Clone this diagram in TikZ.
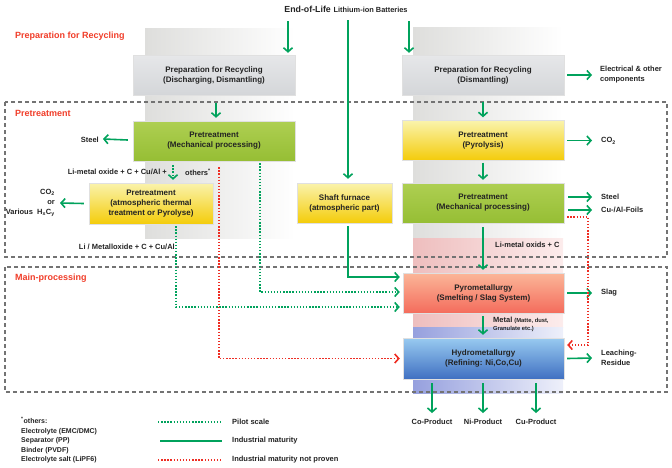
\documentclass[tikz,border=0pt]{standalone}
\usepackage{fontspec}
\setmainfont{Liberation Sans}
\usetikzlibrary{arrows.meta,calc}
\definecolor{ggreen}{RGB}{0,162,92}
\definecolor{rred}{RGB}{238,45,35}
\definecolor{seclbl}{RGB}{240,60,40}
\definecolor{txt}{RGB}{35,35,35}
\definecolor{graytop}{RGB}{230,231,233}
\definecolor{graybot}{RGB}{212,214,217}
\definecolor{greentop}{RGB}{174,207,82}
\definecolor{greenbot}{RGB}{150,190,52}
\definecolor{yellowtop}{RGB}{250,243,172}
\definecolor{yellowbot}{RGB}{244,204,10}
\definecolor{pyrotop}{RGB}{251,182,152}
\definecolor{pyrobot}{RGB}{244,108,92}
\definecolor{hydrotop}{RGB}{152,202,240}
\definecolor{hydrobot}{RGB}{64,112,194}
\definecolor{colgray}{RGB}{222,222,220}
\definecolor{colpinkL}{RGB}{238,190,190}
\definecolor{colpinkR}{RGB}{252,236,236}
\definecolor{colblueL}{RGB}{150,160,222}
\definecolor{colblueR}{RGB}{238,240,250}
\tikzset{
  box/.style={draw=black!12, line width=0.4pt, minimum width=162pt, minimum height=40pt,
    inner sep=0pt, align=center, font=\fontsize{8}{10}\selectfont\bfseries, text=txt},
  graybox/.style={box, top color=graytop, bottom color=graybot},
  greenbox/.style={box, top color=greentop, bottom color=greenbot},
  yellowbox/.style={box, top color=yellowtop, bottom color=yellowbot},
  pyrobox/.style={box, top color=pyrotop, bottom color=pyrobot},
  hydrobox/.style={box, top color=hydrotop, bottom color=hydrobot},
  tip/.style={-{Straight Barb[length=4pt,width=9pt]}},
  garrow/.style={draw=ggreen, line width=1.6pt, tip},
  gdot/.style={draw=ggreen, line width=1.6pt, dash pattern=on 1.4pt off 1.7pt},
  rdot/.style={draw=rred, line width=1.6pt, dash pattern=on 1.4pt off 1.7pt},
  region/.style={draw=black!55, line width=1.1pt, dash pattern=on 4pt off 3pt},
  sec/.style={text=seclbl, font=\fontsize{9}{10}\selectfont\bfseries, anchor=west, inner sep=0pt},
  lab/.style={font=\fontsize{7.5}{10}\selectfont\bfseries, text=txt, inner sep=1pt},
}
\begin{document}
\begin{tikzpicture}[x=1pt,y=-1pt]
\useasboundingbox (0,0) rectangle (672,467);
% background columns
\fill[left color=colgray, right color=white] (145,28) rectangle (295,238);
\fill[left color=colgray, right color=white] (413,27) rectangle (563,238);
\fill[left color=colpinkL, right color=colpinkR] (413,238) rectangle (563,327);
\fill[left color=colblueL, right color=colblueR] (413,327) rectangle (563,393);
% regions
\draw[region] (5,102) rectangle (667,257);
\draw[region] (5,267) rectangle (667,392);
\node[sec] (s1) at (15,36) {Preparation for Recycling};
\node[sec] (s2) at (15,113) {Pretreatment};
\node[sec] (s3) at (15,278) {Main-processing};
% title
\node[inner sep=1pt, text=txt] (title) at (346,9) {{\fontsize{8.8}{10}\selectfont\bfseries End-of-Life} {\fontsize{7.4}{10}\selectfont\bfseries Lithium-ion Batteries}};
% boxes
\node[graybox] (prep1) at (214,75) {Preparation for Recycling\\(Discharging, Dismantling)};
\node[graybox] (prep2) at (483,75) {Preparation for Recycling\\(Dismantling)};
\node[greenbox] (mech1) at (214,141) {Pretreatment\\(Mechanical processing)};
\node[yellowbox] (pyr) at (483,140.5) {Pretreatment\\(Pyrolysis)};
\node[greenbox] (mech2) at (483,203) {Pretreatment\\(Mechanical processing)};
\node[yellowbox, minimum width=124pt, minimum height=41pt] (therm) at (151,203.5) {Pretreatment\\(atmospheric thermal\\treatment or Pyrolyse)};
\node[yellowbox, minimum width=95pt] (shaft) at (344.5,203) {Shaft furnace\\(atmospheric part)};
\node[pyrobox, minimum width=161pt] (pyro) at (483.5,293) {Pyrometallurgy\\(Smelting / Slag System)};
\node[hydrobox, minimum width=161pt, minimum height=41pt] (hydro) at (483.5,358.5) {Hydrometallurgy\\(Refining: Ni,Co,Cu)};
% labels
\node[lab, anchor=east] (steel1) at (100,140) {Steel};
\node[lab, anchor=west, align=left] (elec) at (599,75) {Electrical \& other\\components};
\node[lab, anchor=west] (co2a) at (600,141) {CO\textsubscript{2}};
\node[lab, anchor=west] (steel2) at (600,197) {Steel};
\node[lab, anchor=west] (foils) at (600,210) {Cu-/Al-Foils};
\node[lab, anchor=west] (slag) at (600,293) {Slag};
\node[lab, anchor=west, align=left] (leach) at (600,358) {Leaching-\\Residue};
\node[lab, anchor=east, align=right] (co2b) at (56,203) {CO\textsubscript{2}\\or\\Various\ \ H\textsubscript{x}C\textsubscript{y}};
\node[lab, anchor=east] (limo) at (168,172) {Li-metal oxide + C + Cu/Al +};
\node[lab, anchor=west] (others) at (184,172) {others\textsuperscript{*}};
\node[lab, anchor=east] (lmo2) at (176,247) {Li / Metalloxide + C + Cu/Al};
\node[lab, anchor=west] (limc) at (494,245) {Li-metal oxids + C};
\node[lab, anchor=north west, align=left] (metal) at (492,316) {Metal {\fontsize{5.8}{7}\selectfont (Matte, dust,}\\[-2pt]{\fontsize{5.8}{7}\selectfont Granulate etc.)}};
\node[lab] (cop) at (432,422) {Co-Product};
\node[lab] (nip) at (483,422) {Ni-Product};
\node[lab] (cup) at (536,422) {Cu-Product};
% title arrows
\coordinate (t1) at (288,21);
\coordinate (t2) at (348,20);
\coordinate (t3) at (409,21);
\draw[garrow, shorten >=2pt] (t1) -- (t1 |- prep1.north);
\draw[garrow, shorten >=2pt] (t3) -- (t3 |- prep2.north);
\draw[garrow] (t2) -- ($(shaft.north)+(3.5,-4)$);
% vertical flow arrows
\draw[garrow] ($(prep1.south)+(2,8)$) -- ($(mech1.north)+(2,-3)$);
\draw[garrow] ($(prep2.south)+(0,7)$) -- ($(pyr.north)+(0,-3)$);
\draw[garrow] ($(pyr.south)+(0,2)$) -- ($(mech2.north)+(0,-3)$);
\draw[garrow] ($(mech2.south)+(0,4)$) -- ($(pyro.north)+(-0.5,-3)$);
\draw[garrow] ($(pyro.south)+(-0.5,3)$) -- ($(hydro.north)+(-0.5,-3)$);
\draw[garrow, shorten >=5pt] ($(hydro.south)+(-51.5,4)$) -- (cop.north);
\draw[garrow, shorten >=5pt] ($(hydro.south)+(-0.5,4)$) -- (nip.north);
\draw[garrow, shorten >=5pt] ($(hydro.south)+(52.5,4)$) -- (cup.north);
% side arrows
\draw[garrow] ($(prep2.east)+(3,0)$) -- ($(elec.west)+(-7,0)$);
\draw[garrow] ($(mech1.west)+(-5,-1)$) -- ($(steel1.east)+(3,-1)$);
\draw[garrow] ($(therm.west)+(-5,0)$) -- ($(co2b.east)+(4,0)$);
\draw[garrow] ($(pyr.east)+(3,0)$) -- ($(co2a.west)+(-8,-0.5)$);
\draw[garrow] ($(mech2.east |- steel2)+(4,0)$) -- ($(steel2.west)+(-8,0)$);
\draw[garrow] ($(mech2.east |- foils)+(4,0)$) -- ($(foils.west)+(-8,0)$);
\draw[garrow] ($(pyro.east)+(3,0)$) -- ($(slag.west)+(-8,0)$);
\draw[garrow] ($(hydro.east)+(3,0)$) -- ($(leach.west)+(-8,0)$);
% shaft furnace to pyro
\draw[garrow] ($(shaft.south)+(3.5,3)$) |- ($(pyro.west)+(-3,-16)$);
% dotted connectors
\draw[gdot, tip] ($(mech1.south)+(-41,4)$) -- ($(therm.north)+(22,-3)$);
\draw[gdot, tip] ($(mech1.south)+(46,2)$) |- ($(pyro.west)+(-3,-1)$);
\draw[gdot, tip] ($(therm.south)+(25,2)$) |- ($(pyro.west)+(-3,14)$);
\draw[rdot, tip] ($(mech1.south)+(5,6)$) |- ($(hydro.west)+(-3,0)$);
\draw[rdot, tip] ($(mech2.east)+(3,14)$) -- ++(21,0) |- ($(hydro.east)+(3,-13.5)$);
% legend
\node[lab, anchor=north west, align=left, font=\fontsize{7}{9.5}\selectfont\bfseries] (legtext) at (20,416) {\textsuperscript{*}others:\\Electrolyte (EMC/DMC)\\Separator (PP)\\Binder (PVDF)\\Electrolyte salt (LiPF6)};
\coordinate (la1) at (158,422); \coordinate (la2) at (222,422);
\coordinate (lb1) at (160,441); \coordinate (lb2) at (222,441);
\coordinate (lc1) at (158,460); \coordinate (lc2) at (222,460);
\draw[gdot] (la1) -- (la2);
\draw[draw=ggreen, line width=1.6pt] (lb1) -- (lb2);
\draw[rdot] (lc1) -- (lc2);
\node[lab, anchor=west] (lpilot) at (231,422) {Pilot scale};
\node[lab, anchor=west] (lind) at (231,441) {Industrial maturity};
\node[lab, anchor=west] (lnot) at (231,460) {Industrial maturity not proven};
\end{tikzpicture}
\end{document}
